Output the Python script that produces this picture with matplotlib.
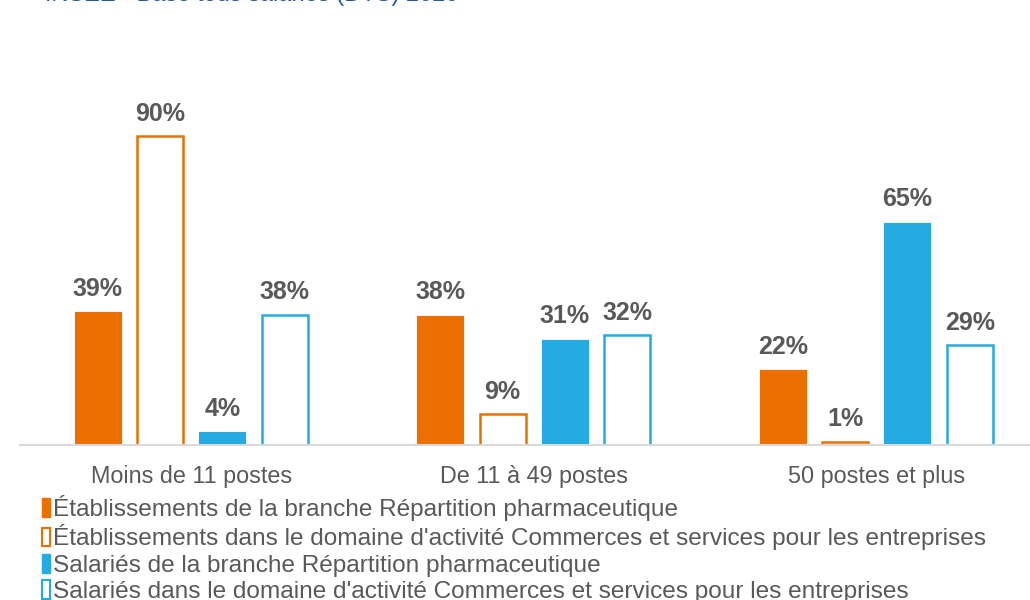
import matplotlib

matplotlib.use("Agg")
import matplotlib.pyplot as plt
import numpy as np
from matplotlib.patches import Patch

# données (en %)
CATEGORIES = ["Moins de 11 postes", "De 11 à 49 postes", "50 postes et plus"]
ETAB_BRANCHE = [39, 38, 22]
ETAB_DOMAINE = [90, 9, 1]
SAL_BRANCHE = [4, 31, 65]
SAL_DOMAINE = [38, 32, 29]
SERIES_LABELS = [
    "Établissements de la branche Répartition pharmaceutique",
    "Établissements dans le domaine d'activité Commerces et services pour les entreprises",
    "Salariés de la branche Répartition pharmaceutique",
    "Salariés dans le domaine d'activité Commerces et services pour les entreprises",
]
SOURCE = "INSEE - Base tous salariés (DTS) 2020"

ORANGE = "#EB7000"
BLUE = "#24ABE1"
GREY = "#595959"

plt.rcParams["font.family"] = ["Liberation Sans", "DejaVu Sans"]

fig = plt.figure(figsize=(10.3, 6.0), dpi=100)
ax = fig.add_axes([20 / 1030, 155 / 600, 1027.5 / 1030, 343.3 / 600])

x = np.arange(len(CATEGORIES))
w = 0.14
offsets = [-0.273, -0.091, 0.091, 0.273]
series = [
    (ETAB_BRANCHE, ORANGE, True),
    (ETAB_DOMAINE, ORANGE, False),
    (SAL_BRANCHE, BLUE, True),
    (SAL_DOMAINE, BLUE, False),
]
for (vals, col, filled), off in zip(series, offsets):
    if filled:
        bars = ax.bar(x + off, vals, w, color=col, edgecolor="white", lw=0.6)
    else:
        bars = ax.bar(x + off, vals, w - 0.006, facecolor="white", edgecolor=col, lw=1.8)
    for b, v in zip(bars, vals):
        ax.annotate(f"{v}%", (b.get_x() + b.get_width() / 2, v), xytext=(0, 7.5),
                    textcoords="offset points", ha="center", va="bottom",
                    fontsize=18, fontweight="bold", color=GREY)

ax.set_xlim(-0.5, 2.5)
ax.set_ylim(0, 100)
for s in ("top", "right", "left"):
    ax.spines[s].set_visible(False)
ax.spines["bottom"].set_color("#d9d9d9")
ax.spines["bottom"].set_linewidth(1.5)
ax.set_yticks([])
ax.set_xticks(x)
ax.set_xticklabels(CATEGORIES, fontsize=16.8, color=GREY)
ax.tick_params(axis="x", length=0, pad=14.5)

handles = [
    Patch(facecolor=ORANGE, edgecolor=ORANGE),
    Patch(facecolor="white", edgecolor=ORANGE, lw=1.5),
    Patch(facecolor=BLUE, edgecolor=BLUE),
    Patch(facecolor="white", edgecolor=BLUE, lw=1.5),
]
fig.legend(handles, SERIES_LABELS, loc="upper left", bbox_to_anchor=(42 / 1030, 1 - 495 / 600),
           frameon=False, handlelength=0.33, handleheight=0.8, handletextpad=0.1,
           labelspacing=0.14, borderaxespad=0, borderpad=0,
           prop={"size": 17.6}, labelcolor=GREY)

fig.text(45 / 1030, 1 - 1.5 / 600, SOURCE, ha="left", va="baseline", fontsize=17, color="#2459A6")

fig.savefig("out.png", dpi=100)
